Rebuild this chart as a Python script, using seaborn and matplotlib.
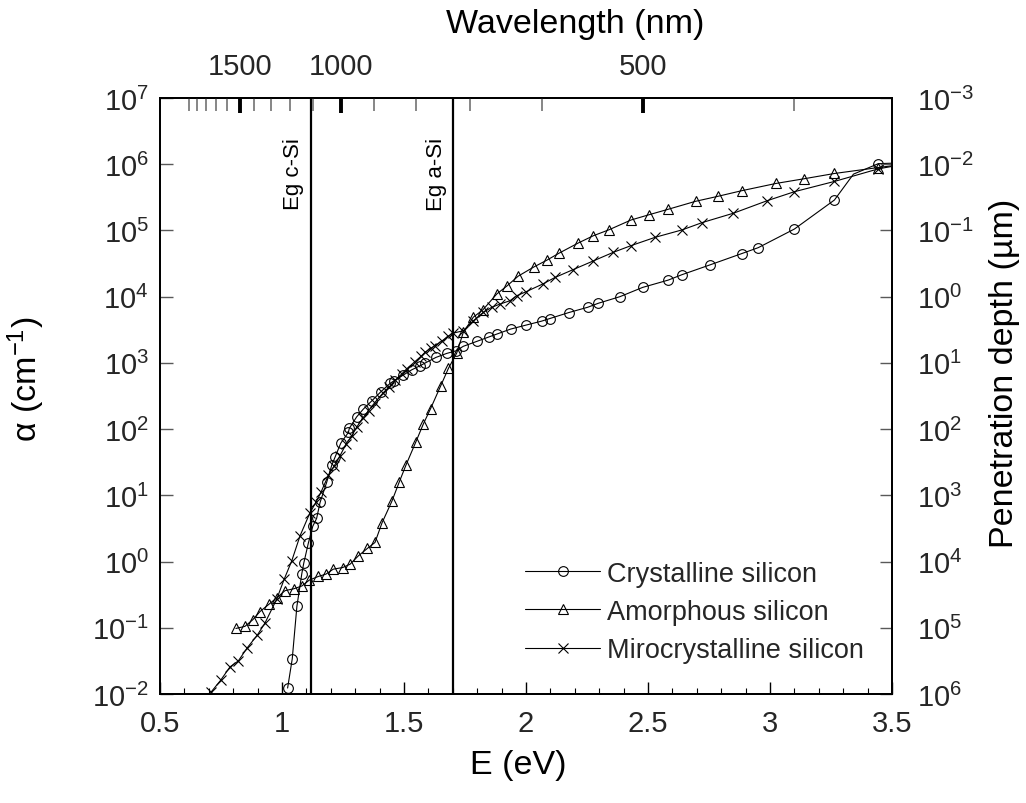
import numpy as np
import pandas as pd
import matplotlib
matplotlib.use("Agg")
import matplotlib.pyplot as plt
import seaborn as sns
from matplotlib import font_manager
from matplotlib.ticker import FixedLocator, NullLocator, LogFormatterSciNotation

# ---------------- data ----------------
csi_E = [1.023, 1.042, 1.061, 1.081, 1.089, 1.108, 1.126, 1.142, 1.156, 1.183, 1.204,
         1.217, 1.241, 1.272, 1.276, 1.306, 1.333, 1.368, 1.405, 1.443, 1.459, 1.497,
         1.532, 1.566, 1.586, 1.631, 1.675, 1.713, 1.743, 1.798, 1.850, 1.880, 1.937,
         2.000, 2.064, 2.098, 2.175, 2.253, 2.296, 2.385, 2.478, 2.583, 2.638, 2.754,
         2.884, 2.952, 3.100, 3.264, 3.342, 3.444, 3.55]
csi_alpha = [0.0123, 0.034, 0.21, 0.65, 0.94, 1.9, 3.4, 4.5, 7.8, 15.7, 28.6,
             37.4, 61.5, 89, 103, 153, 200, 267, 366, 490, 537, 655,
             787, 906, 993, 1210, 1390, 1520, 1780, 2110, 2480, 2720, 3240,
             3720, 4270, 4680, 5750, 6920, 7940, 10000, 13800, 17800, 21400, 30200,
             44700, 55000, 105000, 288000, 708000, 1020000, 1050000]
csi_nomarker = [3.342]

asi_E = [0.811, 0.848, 0.880, 0.910, 0.948, 0.978, 1.012, 1.049, 1.081, 1.112, 1.149,
         1.180, 1.210, 1.249, 1.279, 1.313, 1.350, 1.381, 1.410, 1.450, 1.480, 1.508,
         1.549, 1.579, 1.609, 1.650, 1.682, 1.716, 1.743, 1.784, 1.823, 1.880, 1.923,
         1.968, 2.033, 2.085, 2.137, 2.214, 2.276, 2.340, 2.430, 2.504, 2.583, 2.695,
         2.786, 2.884, 3.025, 3.139, 3.264, 3.444, 3.55]
asi_alpha = [0.0977, 0.105, 0.132, 0.176, 0.229, 0.282, 0.363, 0.389, 0.427, 0.525, 0.596,
             0.646, 0.767, 0.813, 0.912, 1.22, 1.58, 1.94, 3.85, 8.09, 15.7, 28.6,
             64.6, 119, 204, 447, 826, 1406, 2884, 4898, 6310, 10960, 14620,
             20420, 28180, 35480, 45710, 64570, 83180, 102300, 143600, 172600, 208900, 275400,
             327300, 398100, 512900, 602600, 724400, 891300, 1000000]

ucsi_E = [0.708, 0.749, 0.787, 0.821, 0.858, 0.899, 0.930, 0.978, 1.009, 1.040, 1.074,
          1.115, 1.140, 1.160, 1.190, 1.215, 1.238, 1.262, 1.286, 1.306, 1.330, 1.355,
          1.380, 1.415, 1.440, 1.465, 1.490, 1.511, 1.545, 1.570, 1.586, 1.610, 1.627,
          1.655, 1.680, 1.702, 1.743, 1.784, 1.825, 1.859, 1.893, 1.934, 1.962, 2.000,
          2.068, 2.119, 2.194, 2.276, 2.358, 2.430, 2.529, 2.641, 2.723, 2.850, 2.989,
          3.100, 3.264, 3.444, 3.55]
ucsi_alpha = [0.01054, 0.0162, 0.0257, 0.0316, 0.0501, 0.0776, 0.1175, 0.269, 0.542, 1.026, 2.45,
              5.50, 7.94, 11.2, 20.0, 28.2, 39.8, 58.9, 79.4, 107, 145, 191,
              251, 355, 437, 550, 676, 813, 1047, 1259, 1445, 1660, 1820,
              2138, 2512, 2818, 3055, 4325, 5794, 6887, 7727, 8670, 10330, 11860,
              15490, 19500, 25700, 34670, 46770, 58880, 78700, 102300, 131800, 182000, 281800,
              384600, 549500, 851100, 1000000]

series_names = ["Crystalline silicon", "Amorphous silicon", "Mirocrystalline silicon"]
gap_E = [1.12, 1.70]
gap_labels = ["Eg c-Si", "Eg a-Si"]
wl_major = [1500, 1000, 500]
wl_minor = [400, 600, 700, 800, 900, 1100, 1200, 1300, 1400, 1600, 1700, 1800, 1900, 2000]
alpha_decades = list(range(-2, 8))
depth_decades = list(range(-3, 7))

# ---------------- style ----------------
sns.set_theme(style="ticks")
plt.rcParams["font.family"] = ["Liberation Sans", "DejaVu Sans"]
plt.rcParams["mathtext.default"] = "regular"
plt.rcParams["axes.unicode_minus"] = False

installed = {f.name for f in font_manager.fontManager.ttflist}
HAS_NARROW = "Liberation Sans Narrow" in installed
NARROW = ["Liberation Sans Narrow", "Liberation Sans", "DejaVu Sans"]

TICK_FS = 21
LABEL_FS = 24.5
LEG_FS = 23.5 if HAS_NARROW else 19.5
EG_FS = 21 if HAS_NARROW else 16

fig = plt.figure(figsize=(10.26, 8.04), dpi=100)
W, H = 1026, 804
ax = fig.add_axes([160 / W, 1 - 695 / H, 732 / W, 596 / H])

df = pd.concat([
    pd.DataFrame({"E": csi_E, "alpha": csi_alpha, "material": series_names[0]}),
    pd.DataFrame({"E": asi_E, "alpha": asi_alpha, "material": series_names[1]}),
    pd.DataFrame({"E": ucsi_E, "alpha": ucsi_alpha, "material": series_names[2]}),
])

markers = {series_names[0]: "o", series_names[1]: "^", series_names[2]: "x"}
msizes = {series_names[0]: 7, series_names[1]: 7.5, series_names[2]: 7}
for name in series_names:
    sub = df[df["material"] == name].reset_index(drop=True)
    mk = [i for i, e in enumerate(sub["E"]) if not (name == series_names[0] and e in csi_nomarker)]
    sns.lineplot(data=sub, x="E", y="alpha", ax=ax, estimator=None, sort=False,
                 color="black", linewidth=0.8, marker=markers[name], markevery=mk,
                 markersize=msizes[name], markerfacecolor="none", markeredgecolor="black",
                 markeredgewidth=0.8, label=name)

ax.set_yscale("log")
ax.set_xlim(0.5, 3.5)
ax.set_ylim(1e-2, 1e7)

for e in gap_E:
    ax.axvline(e, color="black", linewidth=1.6, zorder=1)
ax.text(gap_E[0] - 0.028, 2.6e6, gap_labels[0], rotation=90, ha="right", va="top",
        fontsize=EG_FS, color="black", family=NARROW)
ax.text(gap_E[1] - 0.025, 2.6e6, gap_labels[1], rotation=90, ha="right", va="top",
        fontsize=EG_FS, color="black", family=NARROW)

# bottom axis
ax.set_xticks([0.5, 1, 1.5, 2, 2.5, 3, 3.5])
ax.set_xticklabels(["0.5", "1", "1.5", "2", "2.5", "3", "3.5"])
ax.set_xticks(np.arange(0.6, 3.45, 0.1), minor=True)
ax.tick_params(axis="x", which="major", direction="in", length=9, width=1.0,
               color="black", labelsize=TICK_FS, pad=11, top=False)
ax.tick_params(axis="x", which="minor", direction="in", length=4.5, width=0.8,
               color="black", top=False)

# left axis
ax.yaxis.set_major_locator(FixedLocator([10.0 ** k for k in alpha_decades]))
ax.yaxis.set_major_formatter(LogFormatterSciNotation())
ax.yaxis.set_minor_locator(NullLocator())
ax.tick_params(axis="y", which="major", direction="in", length=9, width=1.0,
               color="0.35", labelsize=TICK_FS, pad=8, right=False)

ax.set_xlabel("E (eV)", fontsize=LABEL_FS, color="black")
ax.xaxis.set_label_coords(0.489, -0.093)
ax.set_ylabel("α (cm$^{-1}$)", fontsize=LABEL_FS, color="black")
ax.yaxis.set_label_coords(-0.155, 0.529)

for s in ax.spines.values():
    s.set_color("black")
    s.set_linewidth(1.2)

# right axis: penetration depth = 1e4 / alpha (um)
ax_r = ax.twinx()
ax_r.set_yscale("log")
ax_r.set_ylim(1e4 / 1e-2, 1e4 / 1e7)
ax_r.yaxis.set_major_locator(FixedLocator([10.0 ** k for k in depth_decades]))
ax_r.yaxis.set_major_formatter(LogFormatterSciNotation())
ax_r.yaxis.set_minor_locator(NullLocator())
ax_r.tick_params(axis="y", which="major", direction="in", length=9, width=1.0,
                 color="0.35", labelsize=TICK_FS, pad=18)
ax_r.set_ylabel("Penetration depth (µm)", fontsize=LABEL_FS, color="black")
ax_r.yaxis.set_label_coords(1.132, 0.539)

# top axis: wavelength (nm) = 1240 / E
ax_t = ax.twiny()
ax_t.set_xlim(0.5, 3.5)
ax_t.set_xticks([1240 / w for w in wl_major])
ax_t.set_xticklabels([str(w) for w in wl_major])
ax_t.set_xticks([1240 / w for w in wl_minor], minor=True)
ax_t.tick_params(axis="x", which="major", direction="in", length=11, width=2.8,
                 color="black", labelsize=TICK_FS, pad=13)
ax_t.tick_params(axis="x", which="minor", direction="in", length=9, width=1.1,
                 color="0.4")
ax_t.set_xlabel("Wavelength (nm)", fontsize=LABEL_FS, color="black")
ax_t.xaxis.set_label_coords(0.567, 1.111)

for a in (ax_r, ax_t):
    for s in a.spines.values():
        s.set_color("black")
        s.set_linewidth(1.2)

leg = ax.legend(loc="lower left", bbox_to_anchor=(0.499, 0.052), frameon=False,
                prop={"family": NARROW, "size": LEG_FS},
                handlelength=(75 / (LEG_FS * 100 / 72)), handletextpad=0.25,
                labelspacing=0.2 if HAS_NARROW else 0.45, borderpad=0, borderaxespad=0)

fig.savefig("out.png", dpi=100)
